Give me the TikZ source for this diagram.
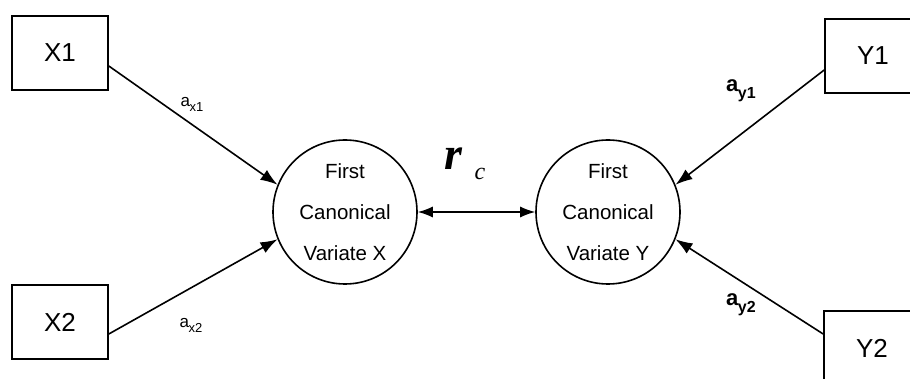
\documentclass[tikz,border=0pt]{standalone}
\usepackage{fontspec}
\setmainfont{Liberation Sans}
\newfontfamily\coeffont{Liberation Serif}
\usetikzlibrary{arrows.meta}

\begin{document}
\begin{tikzpicture}[x=1pt, y=-1pt, line width=1.6pt,
  varbox/.style={draw, minimum width=96pt, minimum height=74pt, inner sep=0pt,
    font=\fontsize{26}{28}\selectfont},
  variate/.style={draw, circle, minimum size=144pt, inner sep=0pt, align=center,
    font=\fontsize{20.5}{41}\selectfont},
  load/.style={-{Latex[length=17pt,width=12pt]}},
  corr/.style={line width=1.3pt, {Latex[length=15pt,width=11pt]}-{Latex[length=15pt,width=11pt]}},
  wlabx/.style={inner sep=0pt, font=\fontsize{17}{19}\selectfont},
  wlaby/.style={inner sep=0pt, font=\bfseries\fontsize{22}{24}\selectfont}]
  \useasboundingbox (0,0) rectangle (910,379);

  % observed variables
  \node[varbox] (x1) at (60,53) {X1};
  \node[varbox] (x2) at (60,322) {X2};
  \node[varbox] (y1) at (873,56) {Y1};
  \node[varbox] (y2) at (872,348) {Y2};

  % canonical variates
  \node[variate] (cx) at (345,212) {First\\Canonical\\Variate X};
  \node[variate] (cy) at (608,212) {First\\Canonical\\Variate Y};

  % canonical weights
  \draw[load] ([yshift=-13pt]x1.east) -- (cx.158);
  \draw[load] ([yshift=-12pt]x2.east) -- (cx.202);
  \draw[load] ([yshift=-14pt]y1.west) -- (cy.22);
  \draw[load] ([yshift=14pt]y2.west) -- (cy.-22);

  % canonical correlation
  \draw[corr] (cx.east) -- (cy.west);

  % labels
  \node[wlabx] (ax1) at (192,104) {a\kern-0.5pt\raisebox{-0.3em}{\fontsize{13}{14}\selectfont x1}};
  \node[wlabx] (ax2) at (191,325) {a\kern-0.5pt\raisebox{-0.3em}{\fontsize{13}{14}\selectfont x2}};
  \node[wlaby] (ay1) at (741,91) {a\kern-0.5pt\raisebox{-0.3em}{\fontsize{16}{17}\selectfont y1}};
  \node[wlaby] (ay2) at (741,305) {a\kern-0.5pt\raisebox{-0.3em}{\fontsize{16}{17}\selectfont y2}};

  \node[inner sep=0pt, anchor=base, font=\coeffont\bfseries\itshape\fontsize{46}{48}\selectfont] (rlab) at (453,170) {r};
  \node[inner sep=0pt, anchor=base, font=\coeffont\itshape\fontsize{24}{26}\selectfont] (clab) at (480,180) {c};
\end{tikzpicture}
\end{document}
